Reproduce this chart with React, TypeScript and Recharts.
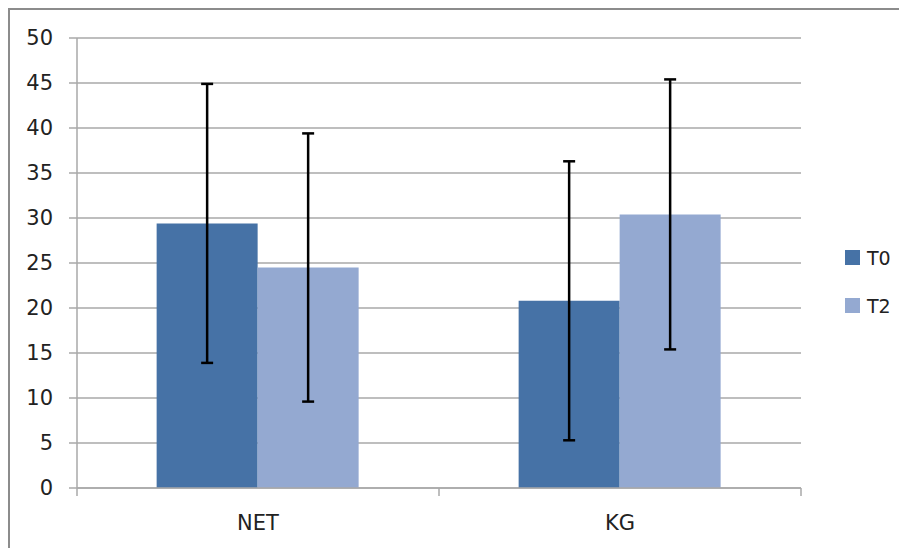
import React from "react";
import { BarChart, Bar, XAxis, YAxis, CartesianGrid, ErrorBar, Legend } from "recharts";

const categories = ["NET", "KG"];
const t0Values = [29.4, 20.8];
const t2Values = [24.5, 30.4];
const t0Errors = [15.5, 15.5];
const t2Errors = [14.9, 15.0];
const yTicks = [0, 5, 10, 15, 20, 25, 30, 35, 40, 45, 50];
const seriesNames = ["T0", "T2"];
const seriesColors = ["#4672A6", "#94A9D1"];

const data = categories.map((c, i) => ({
  name: c,
  T0: t0Values[i],
  T2: t2Values[i],
  T0err: t0Errors[i],
  T2err: t2Errors[i],
}));

const FONT = "'DejaVu Sans', sans-serif";
const AXIS_GRAY = "#a8a8a8";

const XTick = (props: any) => {
  const { x, y, payload, index, visibleTicksCount } = props;
  const off = payload.offset || 0;
  const isLast = index === (visibleTicksCount ?? categories.length) - 1;
  return (
    <g>
      <line x1={x - off} y1={y} x2={x - off} y2={y + 8} stroke={AXIS_GRAY} strokeWidth={1.5} />
      {isLast && (
        <line x1={x + off} y1={y} x2={x + off} y2={y + 8} stroke={AXIS_GRAY} strokeWidth={1.5} />
      )}
      <text x={x} y={y + 42} textAnchor="middle" fill="#222" fontSize={21} fontFamily={FONT}>
        {payload.value}
      </text>
    </g>
  );
};

const LegendContent = () => (
  <div style={{ fontFamily: FONT, width: 60 }}>
    {seriesNames.map((n, i) => (
      <div key={n} style={{ height: 48, display: "flex", alignItems: "center" }}>
        <div style={{ width: 15, height: 15, background: seriesColors[i], marginRight: 7 }} />
        <span style={{ fontSize: 19, color: "#222", lineHeight: "20px" }}>{n}</span>
      </div>
    ))}
  </div>
);

export default function App() {
  return (
    <div
      style={{
        borderLeft: "2px solid #8c8c8c",
        borderTop: "2px solid #8c8c8c",
        width: 897,
        height: 540,
        background: "#fff",
        overflow: "hidden",
      }}
    >
      <style>{"html,body{overflow:hidden}"}</style>
      <BarChart
        width={897}
        height={540}
        data={data}
        margin={{ top: 28, right: 46, bottom: 22, left: 0 }}
        barCategoryGap="22%"
        barGap={0}
      >
        <CartesianGrid horizontal vertical={false} stroke={AXIS_GRAY} strokeWidth={1.5} />
        <XAxis
          dataKey="name"
          height={40}
          axisLine={{ stroke: AXIS_GRAY, strokeWidth: 1.5 }}
          tickLine={false}
          tickSize={0}
          tickMargin={0}
          tick={<XTick />}
          interval={0}
        />
        <YAxis
          width={67}
          domain={[0, 50]}
          ticks={yTicks}
          interval={0}
          axisLine={{ stroke: AXIS_GRAY, strokeWidth: 1.5 }}
          tickLine={{ stroke: AXIS_GRAY, strokeWidth: 1.5 }}
          tickSize={8}
          tickMargin={16}
          tick={{ fill: "#222", fontSize: 21, fontFamily: FONT }}
        />
        <Legend
          layout="vertical"
          align="right"
          verticalAlign="middle"
          content={<LegendContent />}
          wrapperStyle={{ left: 835, top: 223.5, width: 60 }}
        />
        <Bar dataKey="T0" fill={seriesColors[0]} isAnimationActive={false}>
          <ErrorBar dataKey="T0err" stroke="#000" strokeWidth={2.5} width={6} isAnimationActive={false} />
        </Bar>
        <Bar dataKey="T2" fill={seriesColors[1]} isAnimationActive={false}>
          <ErrorBar dataKey="T2err" stroke="#000" strokeWidth={2.5} width={6} isAnimationActive={false} />
        </Bar>
      </BarChart>
    </div>
  );
}
